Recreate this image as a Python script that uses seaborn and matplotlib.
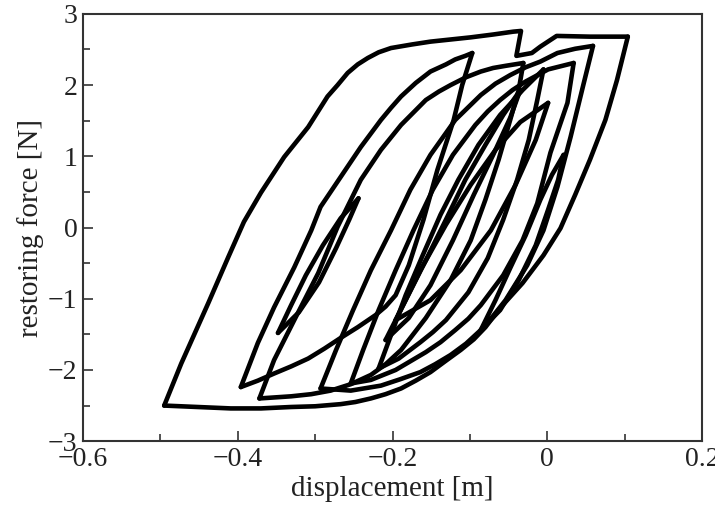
import numpy as np
import pandas as pd
import matplotlib
matplotlib.use("Agg")
import matplotlib.pyplot as plt
import seaborn as sns
from matplotlib.ticker import MultipleLocator, FuncFormatter

# --- hysteresis branches (displacement [m], force [N]) ---
# outer loop
asc1_x = [-0.495, -0.473, -0.438, -0.412, -0.392, -0.370, -0.340, -0.309, -0.284, -0.271, -0.258,
          -0.245, -0.232, -0.218, -0.202, -0.175, -0.151, -0.125, -0.099, -0.070, -0.044, -0.034,
          -0.040, -0.020, -0.009, 0.012, 0.055, 0.104]
asc1_y = [-2.50, -1.91, -1.06, -0.41, 0.08, 0.49, 0.99, 1.41, 1.84, 2.00, 2.17,
          2.29, 2.38, 2.46, 2.52, 2.57, 2.61, 2.64, 2.67, 2.71, 2.75, 2.76,
          2.41, 2.45, 2.54, 2.69, 2.68, 2.68]
desc1_x = [0.104, 0.090, 0.075, 0.055, 0.036, 0.017, -0.005, -0.032, -0.061, -0.080, -0.095, -0.112,
           -0.131, -0.151, -0.170, -0.189, -0.209, -0.228, -0.248, -0.267, -0.300, -0.331, -0.370, -0.409, -0.495]
desc1_y = [2.68, 2.07, 1.51, 0.95, 0.46, -0.01, -0.39, -0.78, -1.13, -1.40, -1.57, -1.72,
           -1.87, -2.03, -2.15, -2.26, -2.34, -2.40, -2.45, -2.48, -2.51, -2.52, -2.54, -2.54, -2.50]

# second loop (left)
asc2_x = [-0.396, -0.374, -0.353, -0.327, -0.305, -0.293, -0.267, -0.241, -0.215, -0.202, -0.189,
          -0.170, -0.151, -0.131, -0.119, -0.106, -0.097]
asc2_y = [-2.24, -1.62, -1.12, -0.56, -0.04, 0.29, 0.71, 1.13, 1.51, 1.68, 1.84,
          2.03, 2.19, 2.29, 2.36, 2.41, 2.45]
desc2_x = [-0.097, -0.110, -0.121, -0.142, -0.160, -0.179, -0.196, -0.209, -0.222, -0.245, -0.267,
           -0.288, -0.309, -0.331, -0.353, -0.374, -0.396]
desc2_y = [2.45, 2.00, 1.51, 0.81, 0.11, -0.53, -0.95, -1.11, -1.23, -1.40, -1.55,
           -1.70, -1.84, -1.95, -2.05, -2.15, -2.24]

# third loop
asc3_x = [-0.372, -0.353, -0.327, -0.296, -0.271, -0.241, -0.215, -0.189, -0.157, -0.140, -0.125,
          -0.105, -0.086, -0.070, -0.054, -0.031]
asc3_y = [-2.40, -1.86, -1.30, -0.64, 0.01, 0.67, 1.09, 1.44, 1.79, 1.91, 2.00,
          2.11, 2.19, 2.24, 2.27, 2.31]
desc3_x = [-0.031, -0.037, -0.048, -0.063, -0.080, -0.099, -0.125, -0.157, -0.189, -0.209, -0.228,
           -0.254, -0.280, -0.305, -0.331, -0.372]
desc3_y = [2.31, 1.93, 1.51, 0.95, 0.39, -0.18, -0.74, -1.27, -1.72, -1.92, -2.07,
           -2.20, -2.29, -2.34, -2.37, -2.40]

# fourth loop
asc4_x = [-0.293, -0.273, -0.251, -0.228, -0.202, -0.177, -0.151, -0.119, -0.086, -0.067, -0.048,
          -0.028, -0.009, 0.013, 0.036, 0.059]
asc4_y = [-2.26, -1.72, -1.16, -0.60, -0.04, 0.53, 1.02, 1.51, 1.86, 2.02, 2.14,
          2.25, 2.33, 2.45, 2.51, 2.55]
desc4_x = [0.059, 0.046, 0.030, 0.013, -0.005, -0.026, -0.054, -0.070, -0.086, -0.105, -0.125,
           -0.145, -0.164, -0.190, -0.215, -0.254, -0.293]
desc4_y = [2.55, 1.98, 1.27, 0.57, -0.04, -0.53, -1.02, -1.24, -1.44, -1.63, -1.79,
           -1.92, -2.03, -2.13, -2.22, -2.29, -2.26]

# fifth loop
asc5_x = [-0.254, -0.238, -0.218, -0.196, -0.173, -0.148, -0.122, -0.093, -0.077, -0.061, -0.045,
          -0.028, 0.001, 0.034]
asc5_y = [-2.19, -1.72, -1.16, -0.60, -0.04, 0.53, 1.02, 1.44, 1.63, 1.79, 1.93,
          2.05, 2.22, 2.31]
desc5_x = [0.034, 0.026, 0.004, -0.013, -0.032, -0.057, -0.086, -0.102, -0.119, -0.138, -0.157,
           -0.196, -0.228, -0.254]
desc5_y = [2.31, 1.75, 1.05, 0.34, -0.18, -0.67, -1.09, -1.28, -1.44, -1.61, -1.75,
           -2.00, -2.14, -2.19]

# sixth loop
asc6_x = [-0.218, -0.202, -0.183, -0.161, -0.138, -0.115, -0.089, -0.061, -0.045, -0.032, -0.005]
asc6_y = [-1.98, -1.51, -0.95, -0.39, 0.18, 0.67, 1.16, 1.58, 1.77, 1.93, 2.22]
desc6_x = [-0.005, -0.013, -0.024, -0.039, -0.057, -0.077, -0.102, -0.131, -0.148, -0.164, -0.192, -0.218]
desc6_y = [2.22, 1.79, 1.23, 0.67, 0.11, -0.43, -0.91, -1.30, -1.47, -1.61, -1.84, -1.98]

# thin inner loops
asc7_x = [-0.196, -0.164, -0.131, -0.099, -0.067, -0.035, 0.001]
asc7_y = [-1.30, -0.60, 0.04, 0.60, 1.09, 1.48, 1.75]
desc7_x = [0.001, -0.015, -0.041, -0.073, -0.112, -0.151, -0.196]
desc7_y = [1.75, 1.23, 0.60, -0.04, -0.60, -1.02, -1.30]

asc8_x = [-0.086, -0.067, -0.048, -0.028, -0.009, 0.006, 0.021]
asc8_y = [-1.44, -1.02, -0.57, -0.11, 0.39, 0.74, 1.02]
desc8_x = [0.021, 0.014, 0.001, -0.015, -0.037, -0.061, -0.086]
desc8_y = [1.02, 0.67, 0.25, -0.25, -0.74, -1.16, -1.44]

asc9_x = [-0.348, -0.331, -0.312, -0.290, -0.267, -0.244]
asc9_y = [-1.48, -1.09, -0.67, -0.25, 0.13, 0.41]
desc9_x = [-0.244, -0.256, -0.273, -0.295, -0.321, -0.348]
desc9_y = [0.41, 0.11, -0.29, -0.77, -1.19, -1.48]

asc10_x = [-0.209, -0.183, -0.157, -0.131, -0.106, -0.080, -0.057, -0.035]
asc10_y = [-1.58, -1.02, -0.46, 0.11, 0.67, 1.16, 1.58, 1.93]
desc10_x = [-0.035, -0.048, -0.070, -0.095, -0.122, -0.151, -0.179, -0.209]
desc10_y = [1.93, 1.54, 1.02, 0.46, -0.18, -0.81, -1.27, -1.58]

xtick_vals = [-0.6, -0.4, -0.2, 0, 0.2]
xtick_text = ["\u22120.6", "\u22120.4", "\u22120.2", "0", "0.2"]
ytick_vals = [-3, -2, -1, 0, 1, 2, 3]
ytick_text = ["\u22123", "\u22122", "\u22121", "0", "1", "2", "3"]

branches = {
    "asc1": (asc1_x, asc1_y), "desc1": (desc1_x, desc1_y),
    "asc2": (asc2_x, asc2_y), "desc2": (desc2_x, desc2_y),
    "asc3": (asc3_x, asc3_y), "desc3": (desc3_x, desc3_y),
    "asc4": (asc4_x, asc4_y), "desc4": (desc4_x, desc4_y),
    "asc5": (asc5_x, asc5_y), "desc5": (desc5_x, desc5_y),
    "asc6": (asc6_x, asc6_y), "desc6": (desc6_x, desc6_y),
    "asc7": (asc7_x, asc7_y), "desc7": (desc7_x, desc7_y),
    "asc8": (asc8_x, asc8_y), "desc8": (desc8_x, desc8_y),
    "asc9": (asc9_x, asc9_y), "desc9": (desc9_x, desc9_y),
    "asc10": (asc10_x, asc10_y), "desc10": (desc10_x, desc10_y),
}

rows = []
for name, (xs, ys) in branches.items():
    for a, b in zip(xs, ys):
        rows.append({"branch": name, "x": a, "y": b})
df = pd.DataFrame(rows)

sns.set_theme(style="ticks")
plt.rcParams["font.family"] = ["Liberation Serif", "DejaVu Serif"]

fig = plt.figure(figsize=(7.15, 5.13), dpi=100)
ax = fig.add_axes([0.116, 0.140, 0.866, 0.833])

sns.lineplot(data=df, x="x", y="y", units="branch", estimator=None, sort=False,
             color="black", linewidth=3.3, ax=ax, legend=False)
for line in ax.lines:
    line.set_solid_joinstyle("round")
    line.set_solid_capstyle("round")

ax.set_xlim(-0.6, 0.2)
ax.set_ylim(-3, 3)
ax.set_xticks(xtick_vals, xtick_text)
ax.set_yticks(ytick_vals, ytick_text)
ax.xaxis.set_minor_locator(MultipleLocator(0.1))
ax.yaxis.set_minor_locator(MultipleLocator(0.5))
ax.tick_params(which="both", direction="in", top=False, right=False, colors="#333333",
               labelcolor="#222222", labelsize=20, pad=4)
ax.tick_params(which="major", length=7, width=1.2)
ax.tick_params(which="minor", length=5, width=1.2)
for s in ax.spines.values():
    s.set_color("#333333")
    s.set_linewidth(1.5)

ax.set_xlabel("displacement [m]", fontsize=21, color="#222222", labelpad=3)
ax.set_ylabel("restoring force [N]", fontsize=21, color="#222222", labelpad=3)

fig.savefig("out.png", dpi=100)
